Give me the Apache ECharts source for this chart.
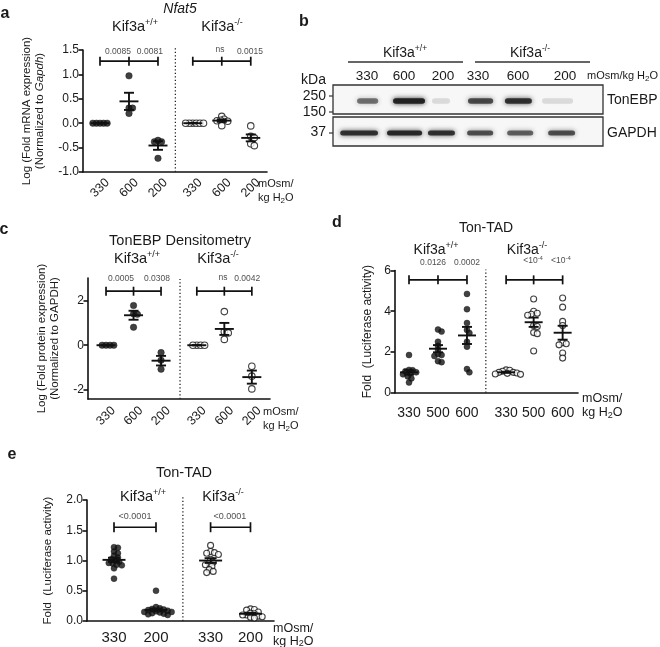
<!DOCTYPE html>
<html><head><meta charset="utf-8">
<script src="https://cdn.jsdelivr.net/npm/echarts@6/dist/echarts.min.js"></script>
<style>html,body{margin:0;padding:0;background:#fff}#c{width:660px;height:647px}</style>
</head><body><div id="c"></div>
<script>
// ================= DATA =================
// Panel a: Nfat5 mRNA (log fold)
const doseA = ['330','600','200'];
const nfat5WT = [[0,0,0,0,0],[0.97,0.31,0.31,0.2],[-0.35,-0.38,-0.38,-0.72]];
const nfat5KO = [[0,0,0,0,0,0],[0.14,0.08,0.06,0.05,0.04,-0.05],[-0.055,-0.27,-0.3,-0.42,-0.46]];
const nfat5P = ['0.0085','0.0081','ns','0.0015'];

// Panel b: western blot (relative band intensity)
const blotLanes = ['330','600','200','330','600','200'];
const tonebpBand = [0.55,0.95,0.12,0.72,0.85,0.12];
const gapdhBand = [0.85,0.9,0.85,0.7,0.62,0.7];
const markerKDa = ['250','150','37'];

// Panel c: TonEBP densitometry (log fold)
const doseC = ['330','600','200'];
const densWT = [[0,0,0,0],[1.77,1.4,1.38,0.8],[-0.33,-0.67,-1.07]];
const densKO = [[0,0,0,0],[1.5,0.6,0.55,0.26],[-0.94,-1.38,-1.95]];
const densP = ['0.0005','0.0308','ns','0.0042'];

// Panel d: Ton-TAD luciferase
const doseD = ['330','500','600'];
const lucWT = [[1.85,1.12,1.1,1.05,1.0,0.95,0.9,0.8,0.7,0.5],[3.1,3.0,2.5,2.3,2.1,1.9,1.85,1.8,1.55,1.5],[4.85,4.1,3.42,3.08,2.93,2.5,2.26,1.16,1.0]];
const lucKO = [[1.12,1.1,1.05,1.0,1.0,0.97,0.95,0.92,0.9],[4.6,4.0,3.9,3.85,3.8,3.3,3.25,2.95,2.9,2.05],[4.65,4.2,3.5,3.3,2.45,2.4,2.35,1.95,1.7]];
const lucP = ['0.0126','0.0002','<10{sup|-4}','<10{sup|-4}'];

// Panel e: Ton-TAD luciferase, hypotonic
const doseE = ['330','200'];
const tadWT = [[1.22,1.21,1.15,1.12,1.08,1.05,1.02,1.0,0.98,0.96,0.95,0.93,0.92,0.87,0.7],[0.5,0.23,0.21,0.2,0.19,0.18,0.17,0.16,0.15,0.15,0.14,0.13,0.12,0.11,0.1]];
const tadKO = [[1.25,1.15,1.13,1.12,1.1,1.02,0.97,0.95,0.93,0.9,0.85,0.82,0.8],[0.2,0.19,0.18,0.15,0.13,0.12,0.1,0.1,0.08,0.07,0.06,0.05]];
const tadP = ['<0.0001','<0.0001'];

// ================= HELPERS =================
const FONT = '"Liberation Sans", Arial, Helvetica, sans-serif';
const INK = '#1a1a1a';
const chart = echarts.init(document.getElementById('c'), null, {renderer:'canvas'});
const grids=[], xAxes=[], yAxes=[], series=[], graphics=[];

function mean(a){return a.reduce((s,v)=>s+v,0)/a.length;}
function sem(a){const m=mean(a); if(a.length<2) return 0; const v=a.reduce((s,x)=>s+(x-m)*(x-m),0)/(a.length-1); return Math.sqrt(v/a.length);}

// deterministic beeswarm layout (pixel space) -> data coords
function swarm(vals, center, pxX, pxY, d){
  const sorted = vals.slice().sort((a,b)=>b-a);
  const placed=[], out=[];
  const step = d/3;
  sorted.forEach(v=>{
    const py=v*pxY; let chosen=0;
    for(let k=0;k<300;k++){
      const cands = k===0?[0]:[k*step,-k*step];
      let ok=null;
      for(const c of cands){
        if(placed.every(p=>{const dx=p[0]-c, dy=p[1]-py; return dx*dx+dy*dy>=d*d*0.999;})){ok=c;break;}
      }
      if(ok!==null){chosen=ok;break;}
    }
    placed.push([chosen,py]);
    out.push([center+chosen/pxX, v]);
  });
  return out;
}

const supRich = (sz)=>({sup:{fontSize:sz, lineHeight:sz, verticalAlign:'top', fontFamily:FONT, fill:INK, color:INK}});
const subRich = (sz)=>({sub:{fontSize:sz, lineHeight:sz, verticalAlign:'bottom', fontFamily:FONT, fill:INK, color:INK}});

function txt(x,y,text,o={}){
  const al=o.align||'center', va=o.va||'middle';
  return {type:'text', x, y, silent:true, z:50, style:{
    text, fill:INK, fontFamily:FONT, fontSize:o.size||14, fontWeight:o.weight||'normal', fontStyle:o.fstyle||'normal',
    align:al, verticalAlign:va, textAlign:al, textVerticalAlign:va,
    lineHeight:o.lh, rich:o.rich}};
}
function ln(x1,y1,x2,y2,w,c){return {type:'line', silent:true, z:50, shape:{x1,y1,x2,y2}, style:{stroke:c||'#333', lineWidth:w||1.2}};}

function panel(p){
  const gi=grids.length;
  grids.push({left:p.left, top:p.top, width:p.width, height:p.height, containLabel:false, outerBoundsMode:'none'});
  const pxX=p.width/(p.xMax-p.xMin), pxY=p.height/(p.yMax-p.yMin);
  xAxes.push({gridIndex:gi, type:'value', min:p.xMin, max:p.xMax, splitLine:{show:false},
    axisLine:{show:true,onZero:false,lineStyle:{color:'#111',width:1.6}},
    axisTick:{show:false},
    axisLabel:Object.assign({customValues:p.pos, formatter:(v)=>{const i=p.pos.findIndex(q=>Math.abs(q-v)<1e-6); return i>=0?p.cats[i]:'';},
      color:INK, fontFamily:FONT}, p.xLabel)});
  const yl={color:INK, fontFamily:FONT, fontSize:p.yLabelSize||12, margin:4, formatter:p.yFmt};
  const yt={show:true, length:4.5, inside:false, lineStyle:{color:'#111',width:1.6}};
  if(p.yCustom){yl.customValues=p.yCustom; yt.customValues=p.yCustom;}
  yAxes.push({gridIndex:gi, type:'value', min:p.yMin, max:p.yMax, interval:p.yInterval, splitLine:{show:false},
    axisLine:{show:true,onZero:false,lineStyle:{color:'#111',width:1.6}}, axisTick:yt, axisLabel:yl,
    name:p.yName, nameLocation:'middle', nameGap:p.nameGap, nameRotate:90,
    nameTextStyle:{color:INK, fontFamily:FONT, fontSize:p.nameSize, lineHeight:p.nameSize+2,
      rich:{i:{fontStyle:'italic', fontSize:p.nameSize, fontFamily:FONT, color:INK, lineHeight:p.nameSize+2}}}});

  // points
  p.groups.forEach((g,i)=>{
    series.push({type:'scatter', xAxisIndex:gi, yAxisIndex:gi, z:3, clip:false, silent:true,
      symbol:'circle', symbolSize:p.sym,
      itemStyle: g.open?{color:'#fff', borderColor:'#111', borderWidth:1.1}:{color:'#111', borderColor:'#111', borderWidth:0.5},
      data: swarm(g.vals, p.pos[i], pxX, pxY, p.sym*p.spread)});
  });
  // mean ± SEM
  series.push({type:'custom', xAxisIndex:gi, yAxisIndex:gi, z:6, clip:false, silent:true,
    data:p.groups.map((g,i)=>[p.pos[i], mean(g.vals), sem(g.vals)]),
    renderItem:(params,api)=>{
      const x=api.value(0), m=api.value(1), s=api.value(2);
      const c=api.coord([x,m]), t=api.coord([x,m+s]), b=api.coord([x,m-s]);
      const st={stroke:'#111', lineWidth:1.9};
      return {type:'group', children:[
        {type:'line', shape:{x1:c[0]-p.meanHW,y1:c[1],x2:c[0]+p.meanHW,y2:c[1]}, style:st},
        {type:'line', shape:{x1:c[0],y1:t[1],x2:c[0],y2:b[1]}, style:st},
        {type:'line', shape:{x1:c[0]-p.capHW,y1:t[1],x2:c[0]+p.capHW,y2:t[1]}, style:st},
        {type:'line', shape:{x1:c[0]-p.capHW,y1:b[1],x2:c[0]+p.capHW,y2:b[1]}, style:st}]};
    }});
  // significance brackets
  series.push({type:'custom', xAxisIndex:gi, yAxisIndex:gi, z:6, clip:false, silent:true,
    data:p.brackets.map(b=>[p.pos[b.ticks[0]], b.y]),
    renderItem:(params,api)=>{
      const b=p.brackets[params.dataIndex];
      const st={stroke:'#111', lineWidth:1.7};
      const l=api.coord([p.pos[b.ticks[0]], b.y]), r=api.coord([p.pos[b.ticks[b.ticks.length-1]], b.y]);
      const ch=[{type:'line', shape:{x1:l[0],y1:l[1],x2:r[0],y2:r[1]}, style:st}];
      b.ticks.forEach(ti=>{const c=api.coord([p.pos[ti], b.y]); ch.push({type:'line', shape:{x1:c[0],y1:c[1]-p.brTick,x2:c[0],y2:c[1]+p.brTick}, style:st});});
      return {type:'group', children:ch};
    }});
  // p-value labels
  series.push({type:'scatter', xAxisIndex:gi, yAxisIndex:gi, z:7, clip:false, silent:true,
    symbolSize:0.1, itemStyle:{color:'rgba(0,0,0,0)'},
    label:{show:true, position:'inside', formatter:'{b}', color:INK, fontFamily:FONT, fontSize:p.pSize,
      rich:{sup:{fontSize:p.pSize-2.5, fontFamily:FONT, color:INK, verticalAlign:'top', lineHeight:p.pSize-2.5}}, lineHeight:p.pSize+3},
    data:p.pLabels.map((q,i)=>({value:q, name:p.pText[i]}))});
  // dotted divider
  series.push({type:'line', xAxisIndex:gi, yAxisIndex:gi, z:2, clip:false, silent:true, symbol:'none', showSymbol:false,
    lineStyle:{type:[1.3,2.2], width:1.3, color:'#222'},
    data:[[p.divX, p.yMin],[p.divX, p.divTop]]});
}

// ================= PANEL a =================
panel({left:83, top:50, width:184, height:122, xMin:0.414, xMax:6.76, yMin:-1, yMax:1.5, yInterval:0.5,
  yFmt:v=>v.toFixed(1), pos:[1,2,3,4.2,5.2,6.2], cats:doseA.concat(doseA),
  groups:[...nfat5WT.map(v=>({vals:v,open:false})), ...nfat5KO.map(v=>({vals:v,open:true}))],
  xLabel:{rotate:45, align:'center', verticalAlign:'middle', margin:16, fontSize:12.5},
  yName:'Log (Fold mRNA expression)\n(Normalized to {i|Gapdh})', nameGap:36, nameSize:11.5,
  sym:6.5, spread:0.55, meanHW:9.5, capHW:5,
  brackets:[{ticks:[0,1,2], y:1.27},{ticks:[3,4,5], y:1.27}], brTick:4.5,
  pLabels:[[1.62,1.47],[2.72,1.47],[5.14,1.5],[6.17,1.47]], pText:nfat5P, pSize:8.5,
  divX:3.6, divTop:1.55});

// ================= PANEL c =================
panel({left:88, top:278, width:182, height:121, xMin:0.345, xMax:6.96, yMin:-2.4, yMax:3, yCustom:[-2,0,2],
  yFmt:v=>String(Math.round(v)), pos:[1,2,3,4.3,5.3,6.3], cats:doseC.concat(doseC),
  groups:[...densWT.map(v=>({vals:v,open:false})), ...densKO.map(v=>({vals:v,open:true}))],
  xLabel:{rotate:45, align:'center', verticalAlign:'middle', margin:17, fontSize:12.5},
  yName:'Log (Fold protein expression)\n(Normalized to GAPDH)', nameGap:26, nameSize:11.5,
  sym:6.5, spread:0.6, meanHW:9.5, capHW:5,
  brackets:[{ticks:[0,1,2], y:2.41},{ticks:[3,4,5], y:2.41}], brTick:4.5,
  pLabels:[[1.545,2.95],[2.85,2.95],[5.25,3.0],[6.13,2.95]], pText:densP, pSize:8.5,
  divX:3.69, divTop:2.95});

// ================= PANEL d =================
panel({left:395, top:270.5, width:183, height:122.2, xMin:0.517, xMax:6.83, yMin:0, yMax:6, yInterval:2,
  yFmt:v=>String(v), pos:[1,2,3,4.35,5.3,6.3], cats:doseD.concat(doseD),
  groups:[...lucWT.map(v=>({vals:v,open:false})), ...lucKO.map(v=>({vals:v,open:true}))],
  xLabel:{fontSize:14, margin:13},
  yName:'Fold  (Luciferase activity)', nameGap:20, nameSize:12,
  sym:6, spread:0.6, meanHW:9, capHW:5,
  brackets:[{ticks:[0,1,2], y:5.54},{ticks:[3,4,5], y:5.54}], brTick:4.5,
  pLabels:[[1.83,6.38],[3.0,6.38],[5.28,6.46],[6.24,6.46]], pText:lucP, pSize:8.5,
  divX:3.65, divTop:6.05});

// ================= PANEL e =================
panel({left:87, top:500, width:187, height:121, xMin:0.357, xMax:4.81, yMin:0, yMax:2, yInterval:0.5,
  yFmt:v=>v.toFixed(1), pos:[1,2,3.3,4.25], cats:doseE.concat(doseE),
  groups:[...tadWT.map(v=>({vals:v,open:false})), ...tadKO.map(v=>({vals:v,open:true}))],
  xLabel:{fontSize:15, margin:9},
  yName:'Fold  (Luciferase activity)', nameGap:32, nameSize:11.5,
  sym:6, spread:0.65, meanHW:11.5, capHW:6,
  brackets:[{ticks:[0,1], y:1.55},{ticks:[2,3], y:1.55}], brTick:5,
  pLabels:[[1.5,1.72],[3.76,1.72]], pText:tadP, pSize:9,
  divX:2.64, divTop:2.05});

// ================= PANEL b (blot) =================
const blotLabelX=[0.756,1.578,2.444,3.222,4.111,5.156];
const tonebpX=[0.77,1.69,2.4,3.28,4.12,4.99], tonebpW=[0.47,0.71,0.4,0.56,0.6,0.69];
const gapdhX=[0.58,1.59,2.41,3.27,4.16,5.08], gapdhW=[0.84,0.78,0.6,0.58,0.58,0.6];
(function(){
  const gi=grids.length;
  grids.push({left:333, top:85, width:270, height:61, containLabel:false, outerBoundsMode:'none'});
  xAxes.push({gridIndex:gi, type:'value', min:0, max:6, position:'top', splitLine:{show:false},
    axisLine:{show:false}, axisTick:{show:false},
    axisLabel:{customValues:blotLabelX, formatter:v=>{const i=blotLabelX.findIndex(q=>Math.abs(q-v)<1e-6); return i>=0?blotLanes[i]:'';},
      color:INK, fontFamily:FONT, fontSize:13.5, margin:2}});
  yAxes.push({gridIndex:gi, type:'value', min:0, max:61, inverse:true, show:false});
  const band=(xs,ws,yc,h)=>((params,api)=>{
    const i=params.dataIndex, a=api.value(2);
    const c=api.coord([api.value(0), yc]); const w=api.size([ws[i],0])[0];
    const col='rgba(28,28,28,'+a+')';
    return {type:'rect', shape:{x:c[0]-w/2, y:c[1]-h/2, width:w, height:h, r:h/2},
      style:{fill:col, shadowBlur:5, shadowColor:col}};
  });
  series.push({type:'custom', xAxisIndex:gi, yAxisIndex:gi, z:10, clip:false, silent:true,
    data:tonebpBand.map((v,i)=>[tonebpX[i],16,v]), renderItem:band(tonebpX,tonebpW,16,5.5)});
  series.push({type:'custom', xAxisIndex:gi, yAxisIndex:gi, z:10, clip:false, silent:true,
    data:gapdhBand.map((v,i)=>[gapdhX[i],48,v]), renderItem:band(gapdhX,gapdhW,48,5)});
})();

// blot frame & labels
graphics.push({type:'rect', silent:true, z:0, shape:{x:333,y:85,width:270,height:29}, style:{fill:'#f7f7f7', stroke:'#333', lineWidth:1.3}});
graphics.push({type:'rect', silent:true, z:0, shape:{x:333,y:117,width:270,height:29}, style:{fill:'#f7f7f7', stroke:'#333', lineWidth:1.3}});
graphics.push(ln(329,96,333,96,1.2,'#333'), ln(329,112,333,112,1.2,'#333'), ln(329,133,333,133,1.2,'#333'));
graphics.push(txt(405,53,'Kif3a{sup|+/+}',{size:14,lh:17,rich:supRich(8.5)}));
graphics.push(txt(530,53,'Kif3a{sup|-/-}',{size:14,lh:17,rich:supRich(8.5)}));
graphics.push(ln(348,62,463,62,1.3,'#333'), ln(475,62,590,62,1.3,'#333'));
graphics.push(txt(587,76,'mOsm/kg H{sub|2}O',{size:11,align:'left',lh:13,rich:subRich(8)}));
graphics.push(txt(326,80,'kDa',{size:14,align:'right'}));
graphics.push(txt(326,96,markerKDa[0],{size:14,align:'right'}));
graphics.push(txt(326,112,markerKDa[1],{size:14,align:'right'}));
graphics.push(txt(326,132,markerKDa[2],{size:14,align:'right'}));
graphics.push(txt(607,100,'TonEBP',{size:14,align:'left'}));
graphics.push(txt(607,133,'GAPDH',{size:14,align:'left'}));

// panel letters
graphics.push(txt(5,14,'a',{size:16,weight:'bold'}));
graphics.push(txt(304,22,'b',{size:16,weight:'bold'}));
graphics.push(txt(4,230,'c',{size:16,weight:'bold'}));
graphics.push(txt(337,223,'d',{size:16,weight:'bold'}));
graphics.push(txt(12,455,'e',{size:16,weight:'bold'}));

// titles / genotype headers
graphics.push(txt(180,9,'Nfat5',{size:14,fstyle:'italic'}));
graphics.push(txt(135,27,'Kif3a{sup|+/+}',{size:14.5,lh:17,rich:supRich(9)}));
graphics.push(txt(222,27,'Kif3a{sup|-/-}',{size:14.5,lh:17,rich:supRich(9)}));
graphics.push(txt(180,241,'TonEBP Densitometry',{size:14.5}));
graphics.push(txt(137,259,'Kif3a{sup|+/+}',{size:14.5,lh:17,rich:supRich(9)}));
graphics.push(txt(218,259,'Kif3a{sup|-/-}',{size:14.5,lh:17,rich:supRich(9)}));
graphics.push(txt(486,228,'Ton-TAD',{size:14}));
graphics.push(txt(436,250,'Kif3a{sup|+/+}',{size:14,lh:17,rich:supRich(9)}));
graphics.push(txt(527,250,'Kif3a{sup|-/-}',{size:14,lh:17,rich:supRich(9)}));
graphics.push(txt(184,473,'Ton-TAD',{size:14.5}));
graphics.push(txt(143,497,'Kif3a{sup|+/+}',{size:14.5,lh:17,rich:supRich(9)}));
graphics.push(txt(223,497,'Kif3a{sup|-/-}',{size:14.5,lh:17,rich:supRich(9)}));

// osmolality unit labels
graphics.push(txt(258,177,'mOsm/\nkg H{sub|2}O',{size:11,align:'left',va:'top',lh:14,rich:subRich(8)}));
graphics.push(txt(263,405,'mOsm/\nkg H{sub|2}O',{size:11,align:'left',va:'top',lh:14,rich:subRich(8)}));
graphics.push(txt(582,392,'mOsm/\nkg H{sub|2}O',{size:12.5,align:'left',va:'top',lh:14,rich:subRich(9)}));
graphics.push(txt(273,622,'mOsm/\nkg H{sub|2}O',{size:12.5,align:'left',va:'top',lh:13,rich:subRich(9)}));

chart.setOption({animation:false, grid:grids, xAxis:xAxes, yAxis:yAxes, series, graphic:{elements:graphics}});
</script></body></html>
